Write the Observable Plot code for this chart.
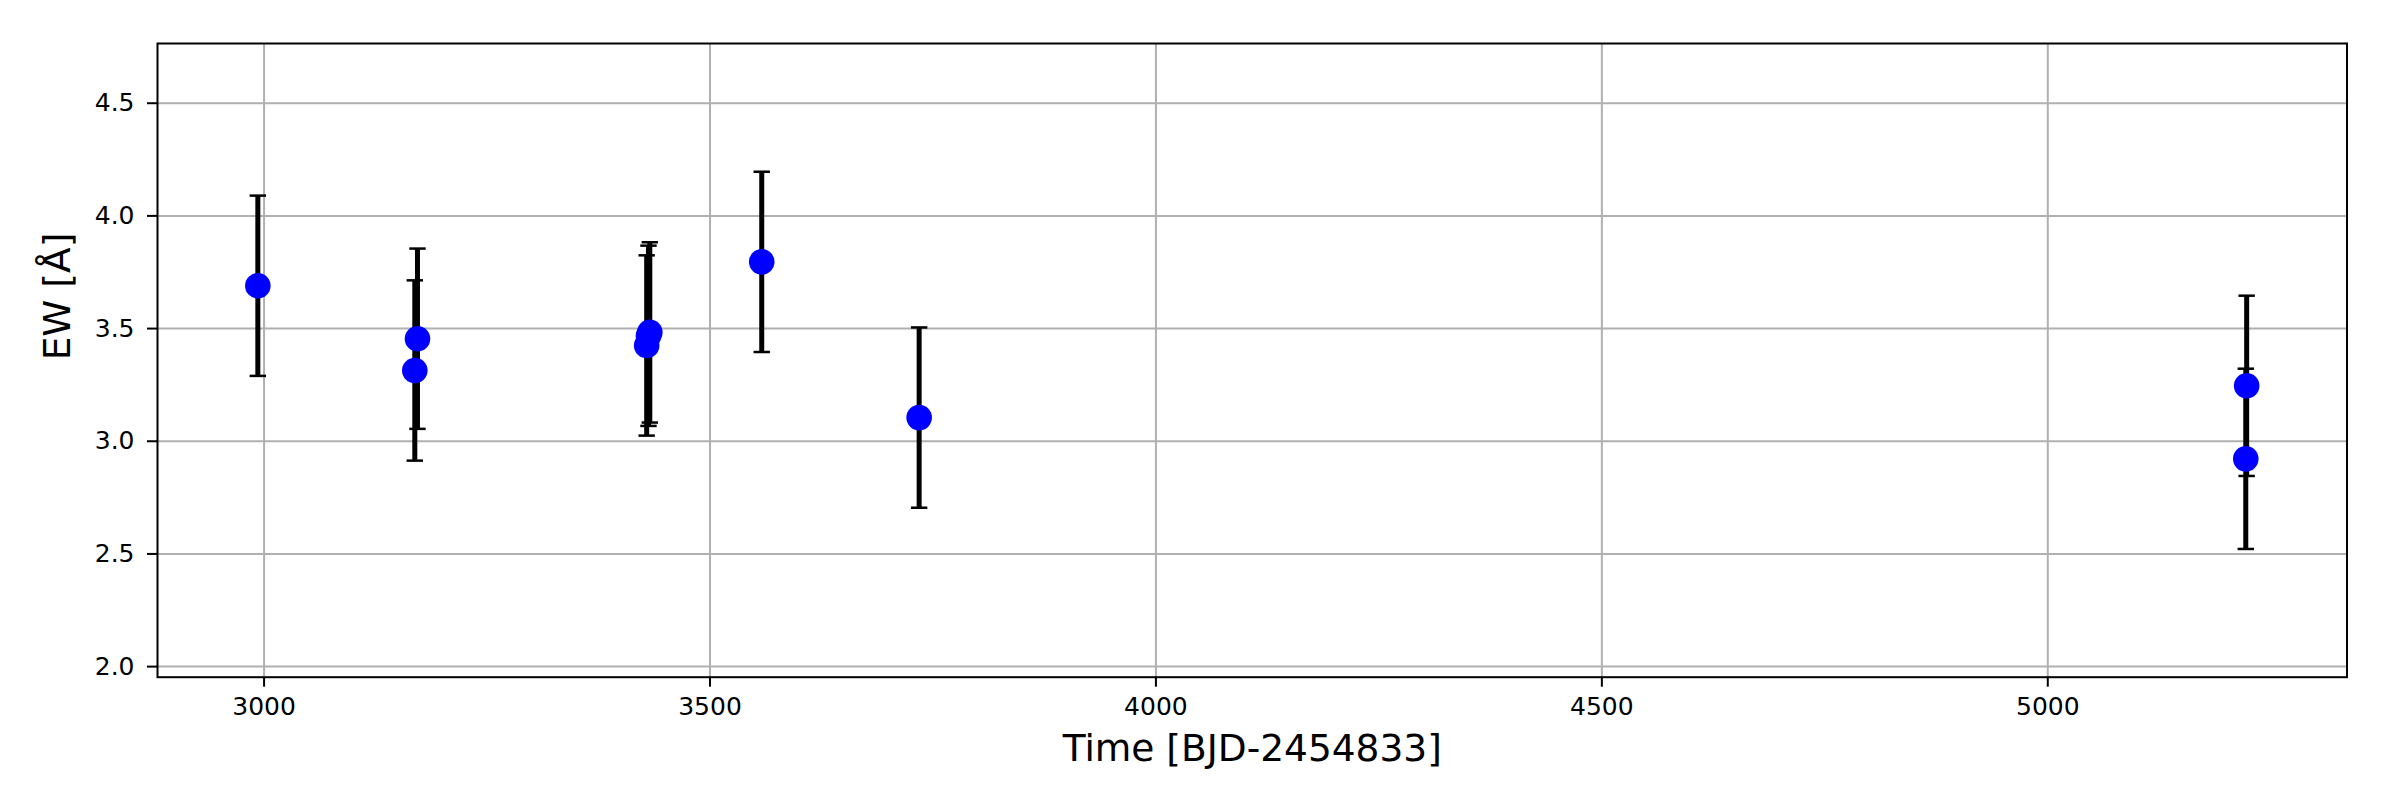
<!DOCTYPE html>
<html>
<head>
<meta charset="utf-8">
<script src="https://cdn.jsdelivr.net/npm/d3@7"></script>
<script src="https://cdn.jsdelivr.net/npm/@observablehq/plot@0.6"></script>
<style>
  html, body { margin: 0; padding: 0; background: #fff; }
  #chart { width: 2392px; height: 812px; }
</style>
</head>
<body>
<div id="chart"></div>
<script>
// Observation times (BJD-2454833)
const times = [2993, 3169, 3172, 3429, 3431, 3432.5, 3558, 3734.5, 5222, 5223];
// Equivalent widths (Å)
const ew = [3.69, 3.314, 3.455, 3.425, 3.468, 3.483, 3.796, 3.105, 2.922, 3.246];
// 1-sigma errors (Å)
const ewErr = [0.40, 0.40, 0.40, 0.40, 0.40, 0.40, 0.40, 0.40, 0.40, 0.40];

const xTicks = [3000, 3500, 4000, 4500, 5000];
const yTicks = [2.0, 2.5, 3.0, 3.5, 4.0, 4.5];
const xLabel = "Time [BJD-2454833]";
const yLabel = "EW [Å]";

const data = times.map((t, i) => ({t, ew: ew[i], lo: ew[i] - ewErr[i], hi: ew[i] + ewErr[i]}));

// horizontal cap symbol for error bars
const capSymbol = {
  draw(ctx, size) {
    const w = Math.sqrt(size / Math.PI);
    ctx.moveTo(-w, 0);
    ctx.lineTo(w, 0);
  }
};

const grid = {stroke: "#b0b0b0", strokeOpacity: 1, strokeWidth: 2};

const chart = Plot.plot({
  width: 2392,
  height: 812,
  marginLeft: 157,
  marginRight: 45.5,
  marginTop: 43,
  marginBottom: 135.3,
  style: {background: "#fff", fontFamily: "'DejaVu Sans', sans-serif", color: "#000"},
  x: {domain: [2880.5, 5335.5]},
  y: {domain: [1.953, 4.765]},
  marks: [
    Plot.gridX(xTicks, grid),
    Plot.gridY(yTicks, grid),
    Plot.ruleX(data, {x: "t", y1: "lo", y2: "hi", stroke: "#000", strokeWidth: 5}),
    Plot.dot(data, {x: "t", y: "lo", symbol: capSymbol, r: 8.2, stroke: "#000", strokeWidth: 2.5, fill: "none"}),
    Plot.dot(data, {x: "t", y: "hi", symbol: capSymbol, r: 8.2, stroke: "#000", strokeWidth: 2.5, fill: "none"}),
    Plot.dot(data, {x: "t", y: "ew", r: 12.8, fill: "#0000ff", stroke: "none"}),
    Plot.frame({stroke: "#000", strokeWidth: 2}),
    Plot.axisX(xTicks, {tickSize: 10, tickPadding: 10, fontSize: 25, strokeWidth: 2, tickFormat: d => String(d), label: null}),
    Plot.axisY(yTicks, {tickSize: 10, tickPadding: 13, fontSize: 25, strokeWidth: 2, tickFormat: d3.format(".1f"), label: null}),
    Plot.text([xLabel], {text: d => d, frameAnchor: "bottom", dy: 72, fontSize: 37.5, lineAnchor: "middle", fill: "#000"}),
    Plot.text([yLabel], {text: d => d, frameAnchor: "left", dx: -100, rotate: -90, fontSize: 37.5, lineAnchor: "middle", fill: "#000"})
  ]
});
document.getElementById("chart").appendChild(chart);
</script>
</body>
</html>
